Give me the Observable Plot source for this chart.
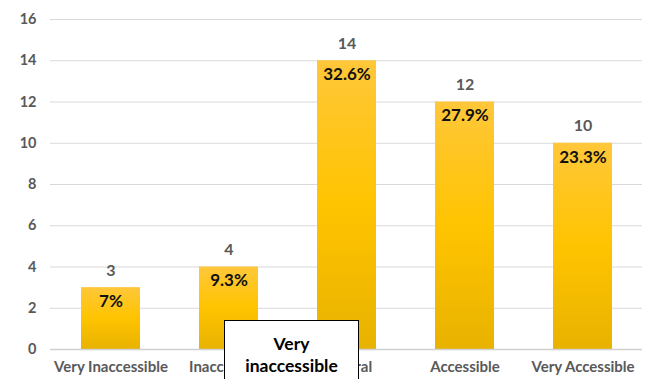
<!DOCTYPE html>
<html>
<head>
<meta charset="utf-8">
<script src="https://cdn.jsdelivr.net/npm/d3@7"></script>
<script src="https://cdn.jsdelivr.net/npm/@observablehq/plot@0.6"></script>
<style>
  html, body { margin: 0; padding: 0; background: #fff; overflow: hidden; }
  #wrap { position: relative; width: 645px; height: 379px; }
  #note {
    position: absolute; left: 224px; top: 320px; width: 135px; height: 80px;
    box-sizing: border-box; border: 1px solid #000; background: #fff;
    font: bold 17.5px Lato, "Open Sans", sans-serif; color: #000;
    text-align: center; line-height: 22px; padding-top: 12px;
  }
</style>
</head>
<body>
<div id="wrap"></div>
<script>
// Survey responses per accessibility rating
const categories = ["Very Inaccessible", "Inaccessible", "Neutral", "Accessible", "Very Accessible"];
const counts = [3, 4, 14, 12, 10];
const percents = ["7%", "9.3%", "32.6%", "27.9%", "23.3%"];
const yTicks = [0, 2, 4, 6, 8, 10, 12, 14, 16];
const noteText = ["Very", "inaccessible"];

const rows = categories.map((c, i) => ({category: c, count: counts[i], pct: percents[i]}));
const font = "Lato, 'Open Sans', sans-serif";

const chart = Plot.plot({
  width: 645,
  height: 379,
  marginTop: 19,
  marginBottom: 30,
  marginLeft: 50,
  marginRight: 3,
  style: {fontFamily: font, background: "#fff"},
  x: {domain: categories, paddingInner: 0.5, paddingOuter: 0.25, label: null},
  y: {domain: [0, 16], ticks: yTicks, label: null},
  marks: [
    Plot.gridY(yTicks, {stroke: "#d9d9d9", strokeOpacity: 1, strokeWidth: 1}),
    Plot.axisY(yTicks, {tickSize: 0, tickPadding: 14, fontSize: 14.5, fontWeight: "bold", fill: "#595959", label: null}),
    Plot.axisX({tickSize: 0, tickPadding: 12, fontSize: 15, fontWeight: "bold", fill: "#595959", label: null}),
    Plot.barY(rows, {x: "category", y: "count", fill: "url(#barGrad)", style: "filter:url(#barShadow)"}),
    Plot.ruleY([0], {stroke: "#d0d0d0", strokeWidth: 1.5}),
    Plot.text(rows, {x: "category", y: "count", text: d => String(d.count), dy: -17, fontSize: 16, fontWeight: "bold", fill: "#595959"}),
    Plot.text(rows, {x: "category", y: "count", text: "pct", dy: 14, fontSize: 17, fontWeight: "bold", fill: "#111"})
  ]
});

// gradient and soft shadow used by the bars
const svg = d3.select(chart);
const defs = svg.insert("defs", ":first-child");
const grad = defs.append("linearGradient").attr("id", "barGrad")
  .attr("x1", 0).attr("y1", 0).attr("x2", 0).attr("y2", 1);
grad.append("stop").attr("offset", "0%").attr("stop-color", "#ffc73a");
grad.append("stop").attr("offset", "50%").attr("stop-color", "#ffc400");
grad.append("stop").attr("offset", "100%").attr("stop-color", "#e8b200");
const f = defs.append("filter").attr("id", "barShadow")
  .attr("x", "-20%").attr("y", "-20%").attr("width", "140%").attr("height", "140%");
f.append("feDropShadow").attr("dx", 0).attr("dy", 0).attr("stdDeviation", 1.5)
  .attr("flood-color", "#000").attr("flood-opacity", 0.25);

const wrap = document.getElementById("wrap");
wrap.appendChild(chart);

const note = document.createElement("div");
note.id = "note";
note.innerHTML = noteText.join("<br>");
wrap.appendChild(note);
</script>
</body>
</html>
